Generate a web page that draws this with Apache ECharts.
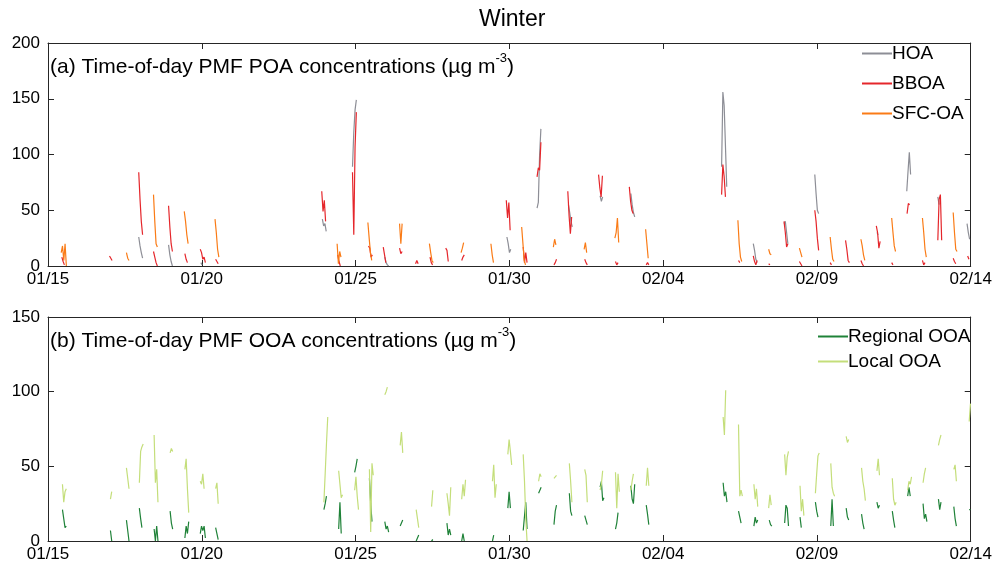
<!DOCTYPE html>
<html>
<head>
<meta charset="utf-8">
<script src="https://cdn.jsdelivr.net/npm/echarts@6/dist/echarts.min.js"></script>
<style>
  html, body { margin: 0; padding: 0; background: #fff; }
  #chart { width: 995px; height: 566px; }
</style>
</head>
<body>
<div id="chart"></div>
<script>
// x values are days after 01/15, each segment = [start day, hourly values]
const dateTicks = ["01/15", "01/20", "01/25", "01/30", "02/04", "02/09", "02/14"];
const HOUR = 1 / 24;

const hoa = [
  [2.95, [26, 18, 12, 7]], [3.92, [19, 10, 4, 0]], [4.97, [3, 1]],
  [8.92, [42, 36, 38, 31]], [9.9, [89, 120, 140, 149]], [10.95, [8, 3, 1, 0]],
  [14.92, [26, 20, 12, 15]], [15.9, [52, 57, 100, 123]], [16.92, [55, 48, 40, 35]],
  [17.95, [63, 58, 62]], [18.95, [65, 55, 48, 44]], [21.9, [89, 156, 144, 108, 71]],
  [22.93, [20, 14, 6, 3]], [23.93, [38, 40, 30, 20]], [24.93, [82, 65, 50, 47]],
  [26.95, [30, 28]], [27.92, [67, 85, 102, 82]], [28.93, [62, 55]], [29.88, [38, 30, 24]]
];
const bboa = [
  [0.45, [8, 4, 1]], [2.0, [9, 7, 5]], [2.95, [84, 60, 40, 28]], [3.43, [13, 8, 3, 0]],
  [3.92, [54, 35, 20, 13]], [4.45, [11, 6, 3]], [4.95, [15, 12, 6, 8, 3]], [5.45, [6, 4, 2]],
  [8.9, [67, 49, 59, 40]], [9.42, [10, 4, 0]], [9.9, [84, 28, 107, 138]], [10.42, [18, 16, 8, 10]],
  [10.9, [17, 10, 3]], [11.43, [16, 11, 13]], [11.95, [2, 5, 2]], [12.42, [8, 3, 1]],
  [12.93, [16, 14, 4]], [13.45, [5, 8, 10]], [14.9, [59, 43, 57, 32]], [15.45, [17, 3, 12, 3]],
  [15.9, [80, 88, 86, 111]], [16.45, [1, 3, 6]], [16.9, [67, 45, 29, 44]], [17.45, [6, 3, 1]],
  [17.9, [82, 70, 62, 81]], [18.45, [4, 1, 3]], [18.9, [71, 58, 50, 47]], [19.45, [1, 3, 1]],
  [21.9, [64, 91, 80, 62]], [22.45, [5, 3]], [22.93, [9, 4, 1, 5]], [23.43, [2, 1]],
  [23.93, [40, 30, 17, 20]], [24.43, [4, 2, 0]], [24.93, [50, 40, 25, 14]], [25.43, [3, 1]],
  [25.93, [23, 15, 5, 3]], [26.43, [5, 2, 0]], [26.93, [36, 30, 16, 22]], [27.43, [3, 1]],
  [27.93, [47, 56, 55]], [28.43, [5, 1, 3]], [28.93, [23, 60, 64, 23]], [29.43, [7, 4, 2]],
  [29.9, [9, 6]]
];
const sfcoa = [
  [0.43, [12, 18, 5, 20, 0]], [2.55, [12, 7, 5]], [3.43, [64, 40, 20, 17]], [4.43, [49, 40, 28, 20]],
  [5.43, [42, 30, 15, 8]], [9.4, [20, 2, 13, 8]], [10.4, [39, 25, 12, 5]], [11.43, [38, 20, 38]],
  [12.4, [20, 12, 5, 3]], [13.43, [12, 16, 21]], [14.4, [20, 10, 3]], [15.4, [35, 20, 5, 1]],
  [16.43, [17, 24, 19]], [17.43, [15, 21, 12]], [18.43, [25, 30, 43, 21]], [19.43, [33, 20, 7]],
  [22.43, [41, 20, 8, 4]], [23.43, [15, 11, 10]], [24.43, [16, 12, 8]], [25.43, [26, 15, 6, 4]],
  [26.43, [24, 18, 10, 5]], [27.43, [43, 30, 18, 13]], [28.43, [43, 30, 15, 8]], [29.43, [48, 30, 15, 13]]
];
const regionalOOA = [
  [0.47, [21, 15, 9, 10]], [2.03, [7, 0]], [2.55, [14, 7, 0]], [2.97, [22, 15, 9]],
  [3.45, [8, 0, 10, 0]], [3.97, [20, 12, 8]], [4.45, [2, 10, 5, 13]], [4.95, [5, 10, 7, 10, 2]],
  [5.45, [9, 5, 1]], [8.97, [21, 25, 30]], [9.45, [8, 26, 5]], [9.97, [46, 50, 55]],
  [10.45, [42, 25, 13]], [10.95, [13, 8, 10, 6]], [11.45, [10, 12, 14]], [11.97, [0, 2, 4]],
  [12.47, [0, 1]], [12.97, [12, 4, 8, 4]], [13.45, [0, 5, 0]], [14.45, [0, 4]],
  [14.95, [22, 33, 22]], [15.45, [7, 6, 26, 8]], [15.95, [32, 34, 36]], [16.45, [11, 20, 24]],
  [16.95, [32, 20, 17]], [17.45, [17, 14, 11]], [17.95, [36, 40, 27, 29]], [18.45, [8, 12, 19]],
  [18.95, [37, 28, 25, 38]], [19.45, [24, 18, 11]], [21.95, [39, 30, 33, 26]], [22.45, [20, 19, 12]],
  [22.95, [10, 16, 12, 14]], [23.45, [14, 11, 10]], [23.95, [12, 24, 22, 10]], [24.45, [16, 9]],
  [24.95, [26, 20, 16]], [25.45, [10, 28, 10]], [25.95, [22, 16, 14]], [26.45, [18, 12, 8]],
  [26.95, [26, 22, 24]], [27.45, [20, 14, 9]], [27.95, [30, 36, 30]], [28.45, [25, 15, 18, 13]],
  [28.95, [28, 21, 26]], [29.45, [23, 15, 10]], [29.95, [21, 21]]
];
const localOOA = [
  [0.47, [38, 26, 33, 35]], [2.03, [28, 33]], [2.55, [49, 42, 35]], [2.97, [39, 60, 63, 65]],
  [3.45, [71, 39, 48, 26]], [3.97, [59, 62, 60]], [4.45, [48, 55, 35, 19]], [4.95, [40, 38, 45, 35]],
  [5.45, [35, 39, 25]], [8.97, [26, 45, 65, 83]], [9.45, [47, 38, 29, 31]], [9.97, [34, 43, 30, 21]],
  [10.45, [48, 6, 52, 44]], [10.95, [98, 100, 103]], [11.45, [64, 73, 59]], [11.97, [21, 15, 9]],
  [12.47, [23, 34]], [12.97, [32, 25, 17, 36]], [13.45, [28, 38, 30, 41]], [14.45, [40, 51, 29, 38]],
  [14.95, [58, 68, 60, 51]], [15.45, [58, 40, 15, 0]], [15.95, [40, 45, 43]], [16.45, [42, 41, 44]],
  [16.95, [52, 40, 26]], [17.45, [48, 44, 26]], [17.95, [34, 38, 47]], [18.45, [46, 22, 45, 33]],
  [18.95, [34, 40, 45]], [19.45, [37, 49, 37]], [21.95, [83, 71, 101]], [22.45, [78, 30, 34, 30]],
  [22.95, [38, 28, 35, 23]], [23.43, [22, 31, 24]], [23.95, [58, 44, 56, 60]], [24.45, [37, 20, 28, 17]],
  [24.95, [32, 45, 57, 59]], [25.45, [52, 36, 32, 30]], [25.95, [70, 66, 68]], [26.45, [49, 40, 35, 27]],
  [26.95, [47, 55, 44]], [27.45, [42, 28, 24, 26]], [27.95, [34, 40, 38, 43]], [28.45, [39, 45, 49]],
  [28.95, [64, 68, 71]], [29.45, [48, 51, 40]], [29.95, [80, 92]]
];

function segData(segs) {
  const out = [];
  segs.forEach(([t0, vals]) => {
    vals.forEach((v, i) => out.push([t0 + i * HOUR, v]));
    out.push([t0 + vals.length * HOUR, "-"]);
  });
  return out;
}

const axisColor = "#262626";
const font = "Liberation Sans, Arial, Helvetica, sans-serif";

function xAx(grid, pos, labels) {
  return {
    type: "value", gridIndex: grid, position: pos, min: 0, max: 30, interval: 5,
    axisLine: { show: true, onZero: false, lineStyle: { color: axisColor, width: 1 } },
    axisTick: { show: true, inside: true, length: 6, lineStyle: { color: axisColor } },
    axisLabel: {
      show: labels, color: "#000", fontSize: 17, fontFamily: font, margin: 5,
      formatter: v => dateTicks[Math.round(v / 5)]
    },
    splitLine: { show: false }
  };
}
function yAx(grid, pos, max, labels) {
  return {
    type: "value", gridIndex: grid, position: pos, min: 0, max: max, interval: 50,
    axisLine: { show: true, onZero: false, lineStyle: { color: axisColor, width: 1 } },
    axisTick: { show: true, inside: true, length: 6, lineStyle: { color: axisColor } },
    axisLabel: { show: labels, color: "#000", fontSize: 17, fontFamily: font, margin: 8 },
    splitLine: { show: false }
  };
}
function line(name, segs, color, xi, yi) {
  return {
    name: name, type: "line", xAxisIndex: xi, yAxisIndex: yi,
    data: segData(segs), showSymbol: false, symbol: "none", animation: false,
    lineStyle: { color: color, width: 1.2 }, itemStyle: { color: color }
  };
}

const panelRich = {
  n: { fontSize: 21, fontFamily: font, fill: "#000", lineHeight: 26, verticalAlign: "bottom" },
  s: { fontSize: 13, fontFamily: font, fill: "#000", lineHeight: 26, verticalAlign: "top" }
};

const chart = echarts.init(document.getElementById("chart"));
chart.setOption({
  backgroundColor: "#fff",
  animation: false,
  title: {
    text: "Winter", left: 479, top: 8, padding: 0,
    textStyle: { fontSize: 23, fontWeight: "normal", color: "#000", fontFamily: font }
  },
  grid: [
    { left: 48, width: 926, top: 43, height: 223 },
    { left: 48, width: 926, top: 317, height: 224 }
  ],
  xAxis: [xAx(0, "bottom", true), xAx(1, "bottom", true), xAx(0, "top", false), xAx(1, "top", false)],
  yAxis: [yAx(0, "left", 200, true), yAx(1, "left", 150, true), yAx(0, "right", 200, false), yAx(1, "right", 150, false)],
  legend: [
    {
      data: ["HOA", "BBOA", "SFC-OA"], orient: "vertical", left: 862, top: 43,
      itemWidth: 30, itemHeight: 2, itemGap: 9, icon: "rect", padding: 0,
      textStyle: { fontSize: 19, lineHeight: 21, color: "#000", fontFamily: font, padding: [0, 0, 0, -5] }
    },
    {
      data: ["Regional OOA", "Local OOA"], orient: "vertical", left: 818, top: 326,
      itemWidth: 30, itemHeight: 2, itemGap: 4, icon: "rect", padding: 0,
      textStyle: { fontSize: 19, lineHeight: 21, color: "#000", fontFamily: font, padding: [0, 0, 0, -5] }
    }
  ],
  graphic: [
    {
      type: "text", left: 50, top: 52,
      style: { text: "{n|(a) Time-of-day PMF POA concentrations (µg m}{s|-3}{n|)}", rich: panelRich }
    },
    {
      type: "text", left: 50, top: 326,
      style: { text: "{n|(b) Time-of-day PMF OOA concentrations (µg m}{s|-3}{n|)}", rich: panelRich }
    }
  ],
  series: [
    line("HOA", hoa, "#8d8e96", 0, 0),
    line("BBOA", bboa, "#e5262b", 0, 0),
    line("SFC-OA", sfcoa, "#fa7b16", 0, 0),
    line("Regional OOA", regionalOOA, "#1f8238", 1, 1),
    line("Local OOA", localOOA, "#c4de7a", 1, 1)
  ]
});
</script>
</body>
</html>
